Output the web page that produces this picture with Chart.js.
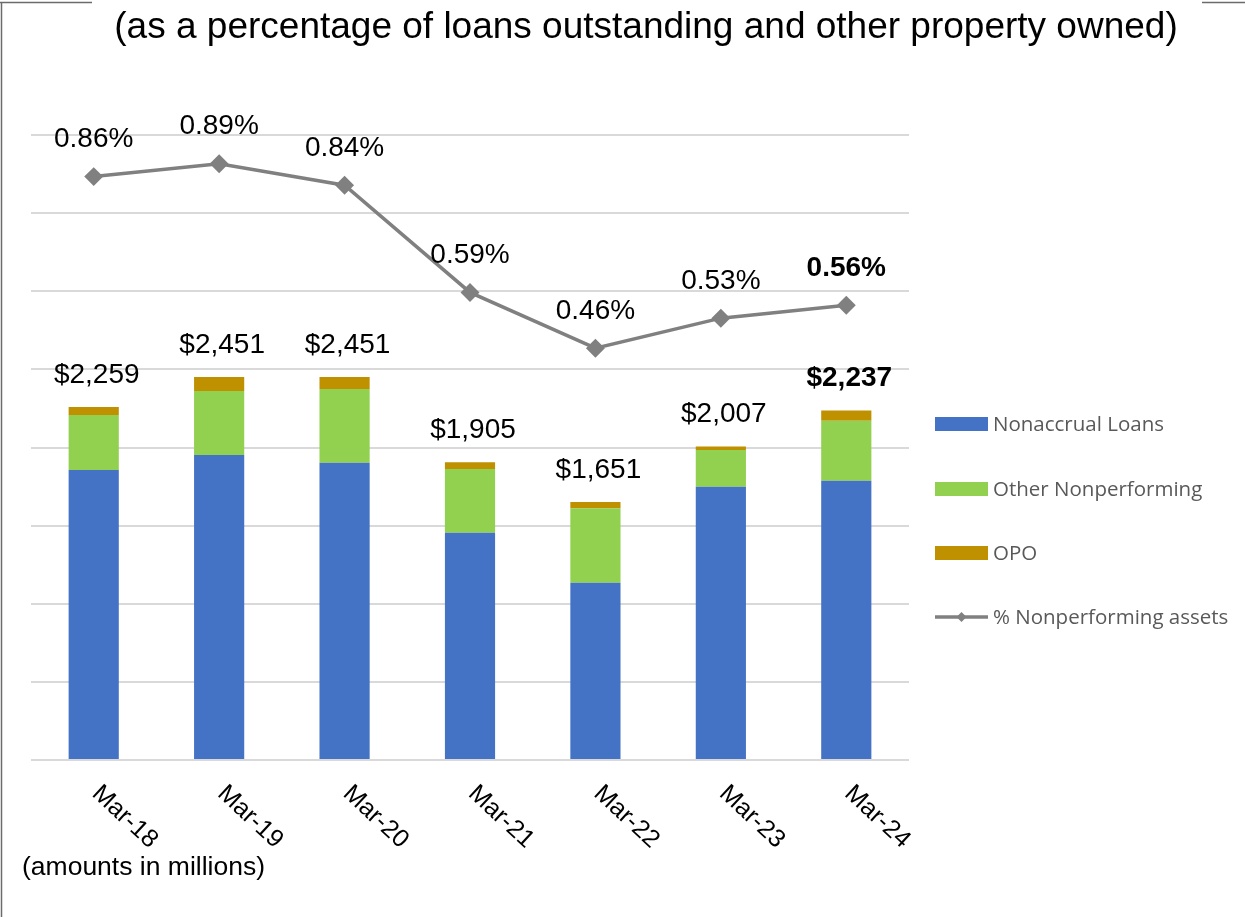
<!DOCTYPE html>
<html>
<head>
<meta charset="utf-8">
<script src="https://cdn.jsdelivr.net/npm/chart.js@4"></script>
<style>
  body { margin: 0; background: #fff; }
  #wrap { width: 1245px; height: 917px; position: relative; }
</style>
</head>
<body>
<div id="wrap"><canvas id="npaChart"></canvas></div>
<script>
const categories = ['Mar-18', 'Mar-19', 'Mar-20', 'Mar-21', 'Mar-22', 'Mar-23', 'Mar-24'];
const nonaccrual = [1856, 1952, 1903, 1455, 1135, 1749, 1788];
const otherNonperforming = [352, 410, 471, 407, 476, 235, 384];
const opo = [51, 89, 77, 43, 40, 23, 65];
const totals = [2259, 2451, 2451, 1905, 1651, 2007, 2237];
const pctNonperforming = [0.86, 0.89, 0.84, 0.59, 0.46, 0.53, 0.56];

const subtitleText = '(as a percentage of loans outstanding and other property owned)';
const footnoteText = '(amounts in millions)';

const arial = '"Liberation Sans", Arial, sans-serif';
const legendFont = '"Open Sans", "Noto Sans", sans-serif';

// labels, legend, rotated x labels and the frame
const decorations = {
    id: 'decorations',
    afterDatasetsDraw(chart) {
        const ctx = chart.ctx;
        const x = chart.scales.x;
        const last = categories.length - 1;
        ctx.save();

        // frame with a gap for the title
        ctx.strokeStyle = '#6b6b6b';
        ctx.lineWidth = 1.5;
        ctx.beginPath();
        ctx.moveTo(0, 2.5); ctx.lineTo(92, 2.5);
        ctx.moveTo(1.5, 2.5); ctx.lineTo(1.5, 917);
        ctx.moveTo(1202, 2.5); ctx.lineTo(1245, 2.5);
        ctx.stroke();

        // subtitle + footnote
        ctx.fillStyle = '#000';
        ctx.font = '37px ' + arial;
        ctx.textAlign = 'center';
        ctx.textBaseline = 'middle';
        ctx.fillText(subtitleText, 646, 28);
        ctx.font = '26.5px ' + arial;
        ctx.textAlign = 'left';
        ctx.fillText(footnoteText, 22, 868);

        // bar totals
        const topMeta = chart.getDatasetMeta(2);
        topMeta.data.forEach((bar, i) => {
            ctx.font = (i === last ? 'bold ' : '') + '28px ' + arial;
            ctx.textAlign = 'center';
            ctx.fillText('$' + totals[i].toLocaleString('en-US'), bar.x + 3, bar.y - 32);
        });

        // line labels
        const lineMeta = chart.getDatasetMeta(3);
        lineMeta.data.forEach((pt, i) => {
            ctx.font = (i === last ? 'bold ' : '') + '28px ' + arial;
            ctx.fillText(pctNonperforming[i].toFixed(2) + '%', pt.x, pt.y - 37);
        });

        // rotated category labels
        ctx.font = '25px ' + arial;
        ctx.textAlign = 'left';
        categories.forEach((c, i) => {
            ctx.save();
            ctx.translate(x.getPixelForValue(i) + 2, 790);
            ctx.rotate(Math.PI / 4.2);
            ctx.fillText(c, 0, 0);
            ctx.restore();
        });

        // legend
        const legendY = [424, 489, 553, 617];
        chart.data.datasets.forEach((ds, i) => {
            const y = legendY[i];
            if (ds.type === 'line') {
                ctx.strokeStyle = ds.borderColor;
                ctx.lineWidth = 3.5;
                ctx.beginPath();
                ctx.moveTo(935, y); ctx.lineTo(988, y);
                ctx.stroke();
                ctx.fillStyle = ds.borderColor;
                ctx.beginPath();
                ctx.moveTo(961.5, y - 5); ctx.lineTo(966.5, y); ctx.lineTo(961.5, y + 5); ctx.lineTo(956.5, y);
                ctx.closePath();
                ctx.fill();
            } else {
                ctx.fillStyle = ds.backgroundColor;
                ctx.fillRect(935, y - 7, 53, 14);
            }
            ctx.fillStyle = '#595959';
            ctx.font = '20.5px ' + legendFont;
            ctx.textAlign = 'left';
            ctx.fillText(ds.label, 993, y + 1);
        });
        ctx.restore();
    }
};

new Chart(document.getElementById('npaChart'), {
    data: {
        labels: categories,
        datasets: [{
            type: 'bar',
            label: 'Nonaccrual Loans',
            data: nonaccrual,
            backgroundColor: '#4472C4',
            stack: 'npa',
            order: 1
        },
        {
            type: 'bar',
            label: 'Other Nonperforming',
            data: otherNonperforming,
            backgroundColor: '#92D050',
            stack: 'npa',
            order: 1
        },
        {
            type: 'bar',
            label: 'OPO',
            data: opo,
            backgroundColor: '#BF9000',
            stack: 'npa',
            order: 1
        },
        {
            type: 'line',
            label: '% Nonperforming assets',
            data: pctNonperforming,
            yAxisID: 'y1',
            borderColor: '#808080',
            backgroundColor: '#808080',
            borderWidth: 3.5,
            pointStyle: 'rectRot',
            pointRadius: 7,
            pointHoverRadius: 7,
            tension: 0,
            order: 0
        }]
    },
    options: {
        responsive: true,
        maintainAspectRatio: false,
        animation: false,
        layout: {
            padding: { left: 31, right: 336, top: 135, bottom: 157 }
        },
        plugins: {
            legend: { display: false },
            title: { display: false },
            tooltip: { enabled: false }
        },
        datasets: {
            bar: { categoryPercentage: 1, barPercentage: 0.4 }
        },
        scales: {
            x: {
                display: false,
                stacked: true
            },
            y: {
                stacked: true,
                min: 0,
                max: 4000,
                border: { display: false },
                grid: {
                    color: '#d9d9d9',
                    lineWidth: 2,
                    drawTicks: false
                },
                ticks: { display: false, stepSize: 500 }
            },
            y1: {
                display: false,
                min: -0.5,
                max: 0.957
            }
        }
    },
    plugins: [decorations]
});
</script>
</body>
</html>
